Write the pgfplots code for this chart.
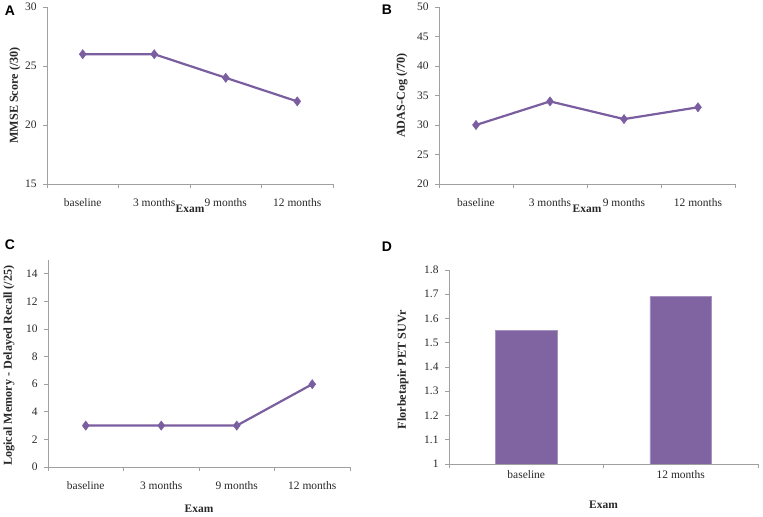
\documentclass[border=0pt]{standalone}
\usepackage{pgfplots}
\pgfplotsset{compat=1.18}
\usepackage{fontspec}
\setmainfont{Liberation Serif}
\newfontfamily\panelfont{Liberation Sans}
\definecolor{axgray}{RGB}{160,160,160}
\definecolor{purp}{RGB}{128,100,162}
\definecolor{linep}{RGB}{122,94,160}
\definecolor{txt}{RGB}{40,40,40}
\pgfplotsset{
  panel/.style={
    scale only axis,
    axis x line*=bottom, axis y line*=left,
    axis line style={draw=axgray, line width=0.8bp, -},
    tick style={draw=axgray, line width=0.8bp},
    tick align=outside,
    major tick length=4bp,
    ticklabel style={font=\fontsize{11.5}{12}\selectfont, text=txt},
    /pgf/number format/assume math mode=true,
    ylabel style={font=\bfseries\fontsize{12.2}{13}\selectfont, text=txt, anchor=center},
    xlabel style={font=\bfseries\fontsize{11.5}{12}\selectfont, text=txt, at={(axis description cs:0.5,0)}, anchor=base},
    yticklabel style={xshift=-3bp},
  },
  linepanel/.style={
    panel, clip=false,
    width=#1,
    xmin=-0.5, xmax=3.5,
    xtick={-0.5,0.5,1.5,2.5,3.5}, xticklabels={},
    extra x ticks={0,1,2,3},
    extra x tick labels={baseline,3 months,9 months,12 months},
    extra x tick style={major tick length=0pt, xticklabel style={anchor=base}},
  },
  lineplot/.style={color=linep, line width=2.2bp, mark=diamond*, mark size=4.6bp, mark options={fill=linep, draw=linep, line width=0.5bp}},
}
\begin{document}
\begin{tikzpicture}
\path[use as bounding box] (0bp,0bp) rectangle (763bp,517bp);

% Panel A
\begin{axis}[linepanel=286bp, height=177bp, at={(47bp,333bp)}, anchor=south west,
  ymin=15, ymax=30, ytick={15,20,25,30},
  extra x tick style={xticklabel style={yshift=-23bp}},
  xlabel={Exam}, xlabel style={yshift=-29bp},
  ylabel={MMSE Score (/30)}, ylabel style={at={(axis description cs:-0.112,0.5)}}]
\addplot[lineplot] coordinates {(0,26) (1,26) (2,24) (3,22)};
\end{axis}

% Panel B
\begin{axis}[linepanel=296bp, height=177bp, at={(439bp,333bp)}, anchor=south west,
  ymin=20, ymax=50, ytick={20,25,30,35,40,45,50},
  extra x tick style={xticklabel style={yshift=-23bp}},
  xlabel={Exam}, xlabel style={yshift=-29bp},
  ylabel={ADAS-Cog (/70)}, ylabel style={at={(axis description cs:-0.125,0.5)}}]
\addplot[lineplot] coordinates {(0,30) (1,34) (2,31) (3,33)};
\end{axis}

% Panel C
\begin{axis}[linepanel=302bp, height=207bp, at={(48bp,50bp)}, anchor=south west,
  ymin=0, ymax=15, ytick={0,2,4,6,8,10,12,14},
  extra x tick style={xticklabel style={yshift=-22bp}},
  xlabel={Exam}, xlabel style={yshift=-45bp},
  ylabel={Logical Memory - Delayed Recall (/25)}, ylabel style={at={(axis description cs:-0.129,0.49)}}]
\addplot[lineplot] coordinates {(0,3) (1,3) (2,3) (3,6)};
\end{axis}

% Panel D
\begin{axis}[panel, width=309bp, height=194bp, at={(449bp,53bp)}, anchor=south west,
  ybar, bar width=0.4,
  xmin=0, xmax=2,
  xtick={0,1,2}, xticklabels={},
  extra x ticks={0.5,1.5},
  extra x tick labels={baseline,12 months},
  extra x tick style={major tick length=0pt, xticklabel style={anchor=base, yshift=-14bp}},
  ymin=1, ymax=1.8, ytick={1,1.1,1.2,1.3,1.4,1.5,1.6,1.7,1.8},
  yticklabel style={/pgf/number format/fixed, /pgf/number format/precision=1},
  xlabel={Exam}, xlabel style={yshift=-44bp},
  ylabel={Florbetapir PET SUVr}, ylabel style={at={(axis description cs:-0.149,0.485)}}]
\addplot[fill=purp, draw=purp!70!white, line width=0.6bp] coordinates {(0.5,1.55) (1.5,1.69)};
\end{axis}

\node[font=\panelfont\bfseries\fontsize{14}{15}\selectfont] at (10bp,506bp) {A};
\node[font=\panelfont\bfseries\fontsize{14}{15}\selectfont] at (387bp,507bp) {B};
\node[font=\panelfont\bfseries\fontsize{14}{15}\selectfont] at (10bp,272bp) {C};
\node[font=\panelfont\bfseries\fontsize{14}{15}\selectfont] at (387bp,270bp) {D};
\end{tikzpicture}
\end{document}
